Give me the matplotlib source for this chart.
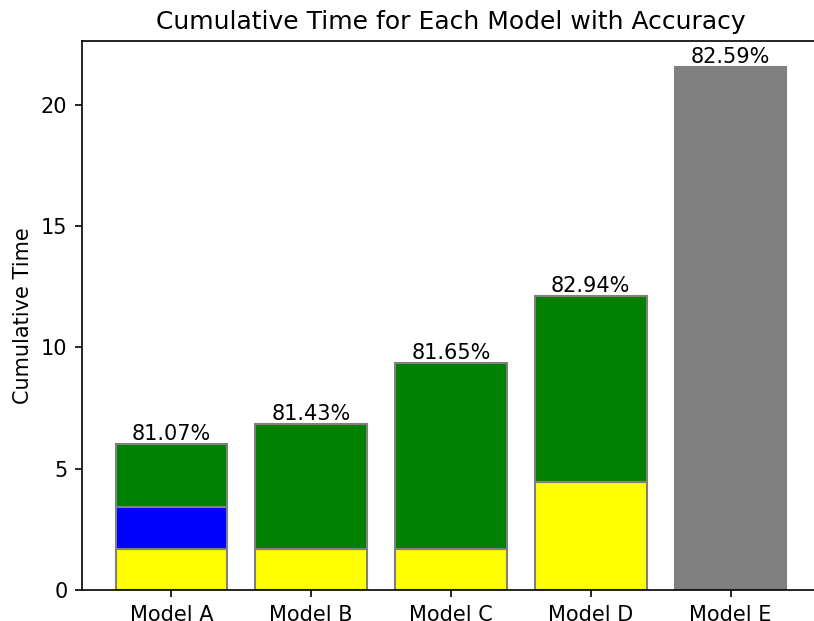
import matplotlib.pyplot as plt
import numpy as np

# dados
modelos = ['Model A', 'Model B', 'Model C', 'Model D', 'Model E']
acuracias = [81.07, 81.43, 81.65, 82.94, 82.59]

# segmentos empilhados (tempo de cada etapa)
t_amarelo = [1.68, 1.68, 1.68, 4.45, 0.0]
t_azul = [1.74, 0.0, 0.0, 0.0, 0.0]
t_verde = [2.58, 5.17, 7.66, 7.67, 0.0]
t_cinza = [0.0, 0.0, 0.0, 0.0, 21.54]

fig = plt.figure(figsize=(814 / 150, 621 / 150), dpi=150)
# eixo vai um pouco alem da borda direita, como no original (cortado)
ax = fig.add_axes([82 / 814, 1 - 590 / 621, (820 - 82) / 814, (590 - 41) / 621])

x = np.arange(len(modelos))
base = np.zeros(len(modelos))
for valores, cor in [(t_amarelo, 'yellow'), (t_azul, 'blue'),
                     (t_verde, 'green'), (t_cinza, 'grey')]:
    v = np.array(valores)
    mask = v > 0
    ax.bar(x[mask], v[mask], bottom=base[mask], color=cor, edgecolor='grey')
    base = base + v

# accuracy em cima de cada barra
for i, acc in enumerate(acuracias):
    ax.text(x[i], base[i], f'{acc:.2f}%', ha='center', va='bottom', fontsize=10)

ax.set_xticks(x)
ax.set_xticklabels(modelos)
ax.set_ylabel('Cumulative Time')
ax.set_title('Cumulative Time for Each Model with Accuracy')
ax.spines['right'].set_visible(False)

fig.savefig('out.png', dpi=150)
